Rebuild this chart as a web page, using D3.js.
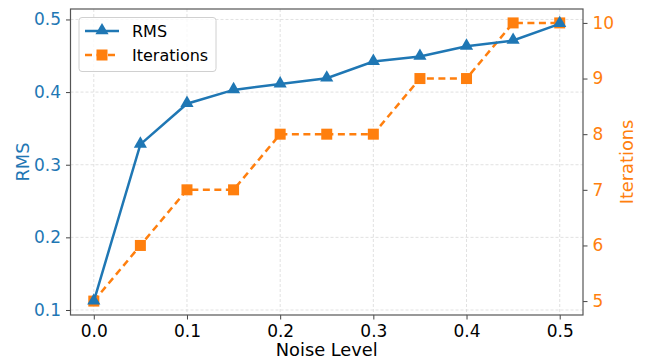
<!DOCTYPE html>
<html>
<head>
<meta charset="utf-8">
<script src="https://cdn.jsdelivr.net/npm/d3@7"></script>
<style>
  body { margin: 0; background: #fff; }
  svg text { font-family: "DejaVu Sans", sans-serif; }
</style>
</head>
<body>
<svg id="chart" width="645" height="362"></svg>
<script>
const noise = [0.0, 0.05, 0.1, 0.15, 0.2, 0.25, 0.3, 0.35, 0.4, 0.45, 0.5]
const rms = [0.112, 0.328, 0.384, 0.403, 0.411, 0.419, 0.442, 0.449, 0.463, 0.471, 0.494]
const iterations = [5, 6, 7, 7, 8, 8, 8, 9, 9, 10, 10]
const xTicks = [0.0, 0.1, 0.2, 0.3, 0.4, 0.5]
const rmsTicks = [0.1, 0.2, 0.3, 0.4, 0.5]
const iterTicks = [5, 6, 7, 8, 9, 10]

const blue = '#1f77b4'
const orange = '#ff7f0e'

const svg = d3.select('#chart')
const pLeft = 70.5, pRight = 583, pTop = 9, pBottom = 315

const x = d3.scaleLinear().domain([-0.025, 0.525]).range([pLeft, pRight])
const yL = d3.scaleLinear().domain([0.0931, 0.5144]).range([pBottom, pTop])
const yR = d3.scaleLinear().domain([4.75, 10.25]).range([pBottom, pTop])

// grid
const grid = svg.append('g')
grid.selectAll('.gx').data(xTicks).enter().append('line')
  .attr('x1', d => x(d)).attr('x2', d => x(d))
  .attr('y1', pTop).attr('y2', pBottom)
grid.selectAll('.gy').data(rmsTicks).enter().append('line')
  .attr('x1', pLeft).attr('x2', pRight)
  .attr('y1', d => yL(d)).attr('y2', d => yL(d))
grid.selectAll('line')
  .attr('stroke', '#d9d9d9').attr('stroke-width', 0.8).attr('stroke-dasharray', '3,2')

// axes
const xAxis = svg.append('g').attr('transform', `translate(0,${pBottom})`)
  .call(d3.axisBottom(x).tickValues(xTicks).tickFormat(d3.format('.1f')).tickSize(4.5).tickPadding(5))
xAxis.selectAll('text').attr('fill', '#000')

const lAxis = svg.append('g').attr('transform', `translate(${pLeft},0)`)
  .call(d3.axisLeft(yL).tickValues(rmsTicks).tickFormat(d3.format('.1f')).tickSize(4.5).tickPadding(5))
lAxis.selectAll('text').attr('fill', blue)

const rAxis = svg.append('g').attr('transform', `translate(${pRight},0)`)
  .call(d3.axisRight(yR).tickValues(iterTicks).tickFormat(d3.format('d')).tickSize(4.5).tickPadding(5))
rAxis.selectAll('text').attr('fill', orange)

svg.selectAll('.tick text').attr('font-size', 17).attr('font-family', '"DejaVu Sans", sans-serif')
svg.selectAll('.tick line').attr('stroke', '#444')
svg.selectAll('.domain').remove()

// frame
svg.append('rect').attr('x', pLeft).attr('y', pTop)
  .attr('width', pRight - pLeft).attr('height', pBottom - pTop)
  .attr('fill', 'none').attr('stroke', '#555').attr('stroke-width', 1.2)

// lines
const lineRms = d3.line().x((d, i) => x(noise[i])).y(d => yL(d))
const lineIt = d3.line().x((d, i) => x(noise[i])).y(d => yR(d))

svg.append('path').datum(iterations).attr('d', lineIt)
  .attr('fill', 'none').attr('stroke', orange).attr('stroke-width', 2.5)
  .attr('stroke-dasharray', '7,4.5')
svg.selectAll('.sq').data(iterations).enter().append('rect')
  .attr('x', (d, i) => x(noise[i]) - 5.5).attr('y', d => yR(d) - 5.5)
  .attr('width', 11).attr('height', 11).attr('fill', orange)

svg.append('path').datum(rms).attr('d', lineRms)
  .attr('fill', 'none').attr('stroke', blue).attr('stroke-width', 2.5)
const tri = d3.symbol().type(d3.symbolTriangle).size(75)
svg.selectAll('.tri').data(rms).enter().append('path')
  .attr('d', tri)
  .attr('transform', (d, i) => `translate(${x(noise[i])},${yL(d) - 0.5})`)
  .attr('fill', blue)

// axis labels
svg.append('text').attr('x', (pLeft + pRight) / 2).attr('y', 356)
  .attr('text-anchor', 'middle').attr('font-size', 17.8).attr('fill', '#000').text('Noise Level')
svg.append('text').attr('transform', `translate(29,${(pTop + pBottom) / 2}) rotate(-90)`)
  .attr('text-anchor', 'middle').attr('font-size', 17.8).attr('fill', blue).text('RMS')
svg.append('text').attr('transform', `translate(632.5,${(pTop + pBottom) / 2}) rotate(-90)`)
  .attr('text-anchor', 'middle').attr('font-size', 17.8).attr('fill', orange).text('Iterations')

// legend
const lg = svg.append('g')
lg.append('rect').attr('x', 79).attr('y', 17.5).attr('width', 137).attr('height', 54)
  .attr('rx', 3).attr('fill', '#fff').attr('fill-opacity', 0.8).attr('stroke', '#d0d0d0')
lg.append('line').attr('x1', 85).attr('x2', 119).attr('y1', 31).attr('y2', 31)
  .attr('stroke', blue).attr('stroke-width', 2.5)
lg.append('path').attr('d', tri).attr('transform', 'translate(102,30.5)').attr('fill', blue)
lg.append('line').attr('x1', 85).attr('x2', 119).attr('y1', 55).attr('y2', 55)
  .attr('stroke', orange).attr('stroke-width', 2.5).attr('stroke-dasharray', '7,4.5')
lg.append('rect').attr('x', 96.5).attr('y', 49.5).attr('width', 11).attr('height', 11).attr('fill', orange)
lg.append('text').attr('x', 132).attr('y', 37).attr('font-size', 16).attr('fill', '#000').text('RMS')
lg.append('text').attr('x', 132).attr('y', 61).attr('font-size', 16).attr('fill', '#000').text('Iterations')
</script>
</body>
</html>
